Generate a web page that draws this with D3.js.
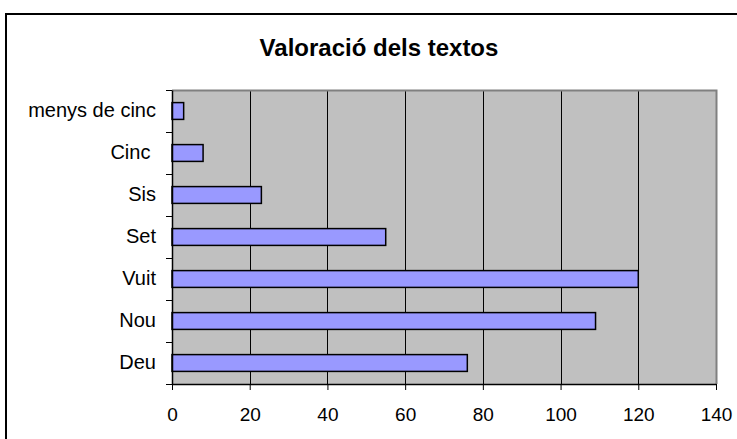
<!DOCTYPE html>
<html>
<head>
<meta charset="utf-8">
<script src="https://cdn.jsdelivr.net/npm/d3@7"></script>
<style>
  html, body { margin: 0; padding: 0; background: #fff; }
  svg { display: block; }
  text { font-family: "Liberation Sans", Arial, Helvetica, sans-serif; fill: #000; white-space: pre; }
</style>
</head>
<body>
<svg id="chart" width="737" height="439"></svg>
<script>
// Ratings of the texts, listed top to bottom
const categories = ["menys de cinc", "Cinc ", "Sis", "Set", "Vuit", "Nou", "Deu"];
const counts = [3, 8, 23, 55, 120, 109, 76];
const xTicks = [0, 20, 40, 60, 80, 100, 120, 140];
const title = "Valoració dels textos";

const svg = d3.select("#chart");
const W = 737, H = 439;
const plot = { left: 172, right: 716, top: 90, bottom: 384 };

// Outer chart frame (extends past the right and bottom edges)
svg.append("rect")
  .attr("x", 6).attr("y", 14)
  .attr("width", W + 20).attr("height", H + 20)
  .attr("fill", "#fff").attr("stroke", "#000").attr("stroke-width", 2);

const x = d3.scaleLinear().domain([0, 140]).range([plot.left, plot.right]);
const y = d3.scaleBand().domain(categories).range([plot.top, plot.bottom]).paddingInner(0.6).paddingOuter(0.3);
const yBand = d3.scaleBand().domain(categories).range([plot.top, plot.bottom]);

// Plot area background
svg.append("rect")
  .attr("x", plot.left).attr("y", plot.top)
  .attr("width", plot.right - plot.left).attr("height", plot.bottom - plot.top)
  .attr("fill", "#c0c0c0");

// Vertical gridlines
svg.append("g").selectAll("line")
  .data(xTicks.filter(d => d > 0 && d < 140))
  .join("line")
  .attr("x1", d => Math.round(x(d)) + 0.5).attr("x2", d => Math.round(x(d)) + 0.5)
  .attr("y1", plot.top).attr("y2", plot.bottom)
  .attr("stroke", "#000").attr("stroke-width", 1);

// Plot area border (top and right in gray)
svg.append("path")
  .attr("d", `M${plot.left},${plot.top + 0.5}H${plot.right + 0.5}V${plot.bottom}`)
  .attr("fill", "none").attr("stroke", "#808080").attr("stroke-width", 2);

// Bars
svg.append("g").selectAll("rect")
  .data(categories)
  .join("rect")
  .attr("x", x(0))
  .attr("y", d => y(d))
  .attr("width", (d, i) => x(counts[i]) - x(0))
  .attr("height", y.bandwidth())
  .attr("fill", "#9999ff")
  .attr("stroke", "#000").attr("stroke-width", 1.5);

// Category axis
const yAxis = d3.axisLeft(yBand).tickSize(0).tickPadding(16);
const gy = svg.append("g").attr("transform", `translate(${plot.left},0)`).call(yAxis);
gy.select(".domain").attr("stroke", "#000").attr("stroke-width", 1.5);
gy.selectAll("text").attr("font-size", 20).attr("font-family", "Liberation Sans, Arial, sans-serif").attr("fill", "#000");
// tick marks between categories
svg.append("g").selectAll("line")
  .data(d3.range(categories.length + 1))
  .join("line")
  .attr("x1", plot.left - 6).attr("x2", plot.left)
  .attr("y1", i => Math.round(plot.top + i * yBand.step()) + 0.5)
  .attr("y2", i => Math.round(plot.top + i * yBand.step()) + 0.5)
  .attr("stroke", "#000").attr("stroke-width", 1);

// Value axis
const xAxis = d3.axisBottom(x).tickValues(xTicks).tickSize(6).tickSizeOuter(0).tickPadding(18);
const gx = svg.append("g").attr("transform", `translate(0,${plot.bottom})`).call(xAxis);
gx.select(".domain").attr("stroke", "#000").attr("stroke-width", 1.5);
gx.selectAll(".tick line").attr("stroke", "#000");
gx.selectAll("text").attr("font-size", 19).attr("font-family", "Liberation Sans, Arial, sans-serif").attr("fill", "#000");

// Title
svg.append("text")
  .attr("x", 379).attr("y", 56)
  .attr("text-anchor", "middle")
  .attr("font-size", 24).attr("font-weight", "bold")
  .text(title);
</script>
</body>
</html>
